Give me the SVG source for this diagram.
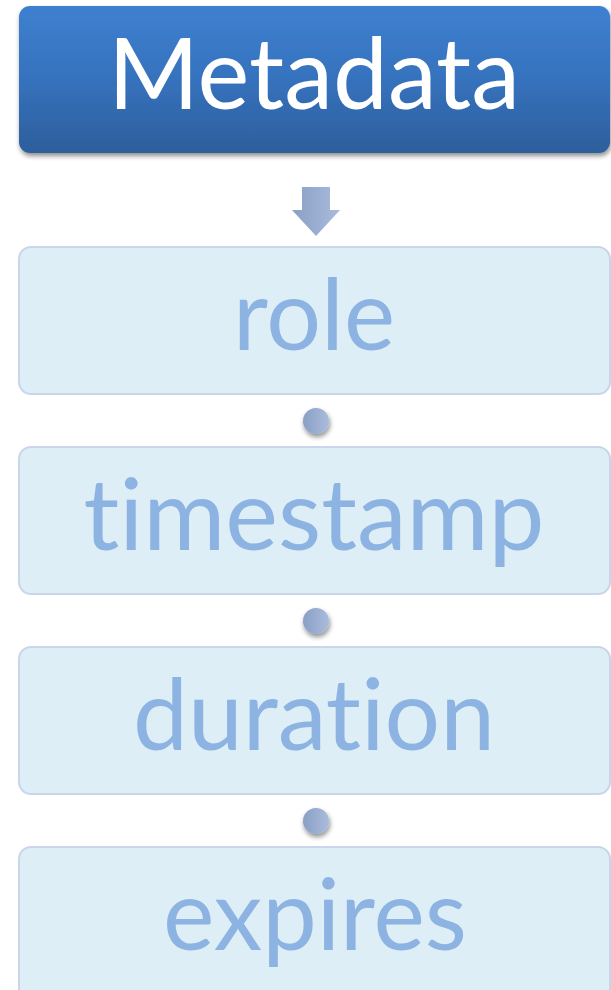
<svg xmlns="http://www.w3.org/2000/svg" width="611" height="990" viewBox="0 0 611 990">
<style>
text{font-variant-ligatures:none;font-feature-settings:"liga" 0,"clig" 0}
.lbl{font-family:Lato,"Open Sans","Liberation Sans",sans-serif;font-size:98px;fill:#8db3e2;text-anchor:middle}
.box{fill:#deeef6;stroke:#c9d5e9;stroke-width:2}
.dot{fill:url(#gdot);filter:url(#sh)}
</style>
<defs>
<linearGradient id="gtop" x1="0" y1="0" x2="0" y2="1">
<stop offset="0" stop-color="#3e80d0"/>
<stop offset="0.5" stop-color="#3672bd"/>
<stop offset="1" stop-color="#2d5e9c"/>
</linearGradient>
<linearGradient id="gdot" x1="0" y1="0" x2="1" y2="0">
<stop offset="0" stop-color="#8a9fc5"/>
<stop offset="1" stop-color="#aabcdd"/>
</linearGradient>
<filter id="sh" x="-30%" y="-30%" width="160%" height="170%">
<feGaussianBlur in="SourceAlpha" stdDeviation="2.5"/>
<feOffset dx="1" dy="3"/>
<feComponentTransfer><feFuncA type="linear" slope="0.45"/></feComponentTransfer>
<feMerge><feMergeNode/><feMergeNode in="SourceGraphic"/></feMerge>
</filter>
</defs>
<g id="metadata">
<rect x="19" y="6" width="591" height="147" rx="11" fill="url(#gtop)" filter="url(#sh)"/>
<text x="314" y="109" font-family="Lato,'Open Sans','Liberation Sans',sans-serif" font-size="98" fill="#ffffff" text-anchor="middle" textLength="412" lengthAdjust="spacingAndGlyphs">Metadata</text>
</g>
<g id="connectors">
<path d="M302 187 H330 V210 H340 L316 236 L292 210 H302 Z" fill="url(#gdot)"/>
<circle class="dot" cx="316" cy="421" r="13"/>
<circle class="dot" cx="316" cy="621" r="13"/>
<circle class="dot" cx="316" cy="821" r="13"/>
</g>
<g id="role">
<rect class="box" x="19" y="247" width="591" height="147" rx="12"/>
<text class="lbl" x="314" y="350" textLength="162" lengthAdjust="spacingAndGlyphs">role</text>
</g>
<g id="timestamp">
<rect class="box" x="19" y="447" width="591" height="147" rx="12"/>
<text class="lbl" x="314" y="550" textLength="461" lengthAdjust="spacingAndGlyphs">timestamp</text>
</g>
<g id="duration">
<rect class="box" x="19" y="647" width="591" height="147" rx="12"/>
<text class="lbl" x="314" y="750" textLength="362" lengthAdjust="spacingAndGlyphs">duration</text>
</g>
<g id="expires">
<rect class="box" x="19" y="847" width="591" height="160" rx="12"/>
<text class="lbl" x="315" y="950" textLength="304" lengthAdjust="spacingAndGlyphs">expires</text>
</g>
</svg>
